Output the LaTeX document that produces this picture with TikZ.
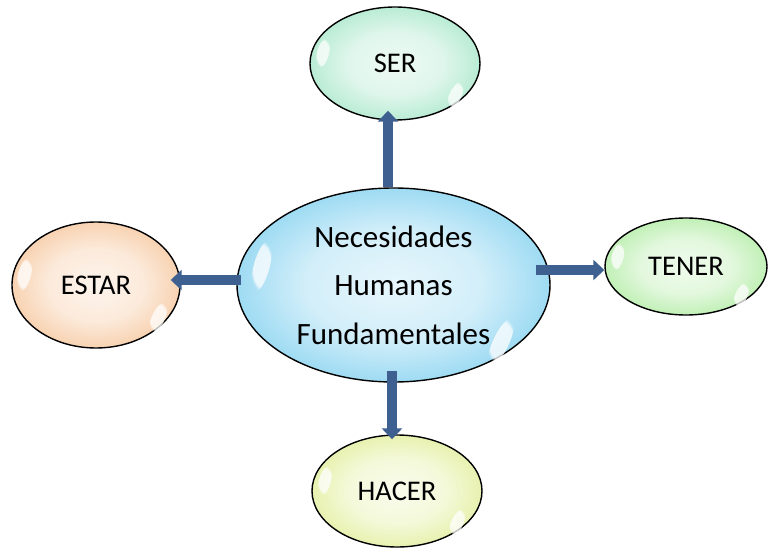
\documentclass[tikz,border=0pt]{standalone}
\usepackage{fontspec}
\setmainfont{Carlito}
\usetikzlibrary{shapes,arrows.meta,calc,fadings}
\definecolor{hubblue}{HTML}{35B4E6}
\definecolor{sermint}{HTML}{6ED7A6}
\definecolor{estarpeach}{HTML}{F0A25E}
\definecolor{tenergreen}{HTML}{7EDF68}
\definecolor{haceryellow}{HTML}{CFE35A}
\definecolor{linkblue}{HTML}{3E6090}
\colorlet{bubcol}{white}
\pgfdeclareradialshading[bubcol]{bubble}{\pgfpoint{0bp}{0bp}}{color(0bp)=(bubcol!12!white); color(14bp)=(bubcol!22!white); color(25bp)=(bubcol!48!white); color(32bp)=(bubcol!85!white); color(35.5bp)=(bubcol); color(50bp)=(bubcol)}
\tikzstyle{need}=[ellipse,draw=black,line width=1.4pt,inner sep=0pt,font=\fontsize{28.5}{34}\selectfont]
\tikzstyle{core}=[need,align=center,font=\fontsize{31}{48.5}\selectfont]
\tikzstyle{tint}=[/utils/exec={\colorlet{bubcol}{#1}},shading=bubble]
\tikzstyle{glare}=[ellipse,fill=white,opacity=0.75,path fading=circle with fuzzy edge 20 percent,inner sep=0pt]
\tikzstyle{link}=[draw=linkblue,line width=10pt,-{Triangle[width=20pt,length=11pt]}]

\begin{document}
\begin{tikzpicture}[x=1pt,y=-1pt]
    \useasboundingbox (0,0) rectangle (768,548);
    % the five bubbles
    \node[core,tint=hubblue,minimum width=313pt,minimum height=194pt] (hub) at (393.5,285) {Necesidades\\Humanas\\Fundamentales};
    \node[need,tint=sermint,minimum width=170pt,minimum height=113pt] (ser) at (395,63.5) {SER};
    \node[need,tint=estarpeach,minimum width=168pt,minimum height=126pt] (estar) at (96,285) {ESTAR};
    \node[need,tint=tenergreen,minimum width=162pt,minimum height=97pt] (tener) at (686,266.5) {TENER};
    \node[need,tint=haceryellow,minimum width=170pt,minimum height=112pt] (hacer) at (397,491) {HACER};

    % glossy spots
    \foreach \n/\w/\h in {hub/16/52, ser/12/30, estar/13/34, tener/12/28, hacer/12/30} {
        \node[glare,rotate=-15,minimum width=\w pt,minimum height=\h pt] (\n-l) at ($(\n.center)!0.86!(\n.172)$) {};
        \node[glare,rotate=-25,minimum width=\w pt,minimum height=\h pt] (\n-r) at ($(\n.center)!0.9!(\n.-28)$) {};
    }

    % arrows from the centre
    \coordinate (up) at ($(hub.north)+(-5.5,0)$);
    \coordinate (down) at ($(hub.south)+(-1.5,-12)$);
    \coordinate (left) at ($(hub.west)+(5,-5)$);
    \coordinate (right) at ($(hub.east)+(-15,-15)$);
    \draw[link] (up) -- ($(up |- ser.south)+(0,-10)$);
    \draw[link] (down) -- ($(down |- hacer.north)+(0,5)$);
    \draw[link] (left) -- ($(left -| estar.east)+(-10,0)$);
    \draw[link] (right) -- (right -| tener.west);
\end{tikzpicture}
\end{document}
